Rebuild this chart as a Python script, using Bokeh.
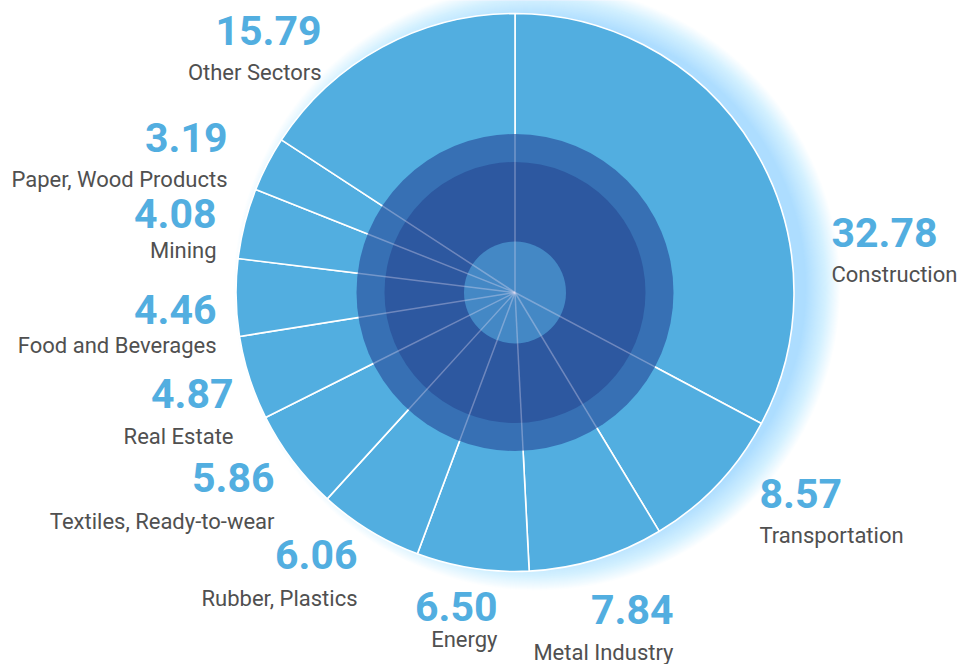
import numpy as np
from bokeh.plotting import figure
from bokeh.models import ColumnDataSource, Range1d
from bokeh.core.properties import value
from bokeh.embed import file_html
from bokeh.resources import INLINE

# ---- data ----
sectors = ["Construction", "Transportation", "Metal Industry", "Energy",
           "Rubber, Plastics", "Textiles, Ready-to-wear", "Real Estate",
           "Food and Beverages", "Mining", "Paper, Wood Products", "Other Sectors"]
shares = [32.78, 8.57, 7.84, 6.50, 6.06, 5.86, 4.87, 4.46, 4.08, 3.19, 15.79]

# ---- layout (pixel positions, y measured from top) ----
W, H = 958, 664
CX, CY = 514.5, H - 292
R = 279
anchor_x = [831, 759, 673, 497, 357, 274, 233, 216, 216, 227, 321]
num_base = [248, 509, 625, 622, 570, 493, 409, 325, 229, 153, 46]
lab_base = [283, 544, 661, 648, 607, 530, 445, 354, 259, 188, 81]
align = ["left", "left"] + ["right"] * 9
NUM_SHIFT = 16   # compensation for renderer baseline placement
LAB_SHIFT = 9

PIE = "#52AEE0"
RING = "#3770B4"
INNER = "#2D58A0"
CORE = "#4488C5"

vals = np.array(shares, dtype=float)
frac = vals / vals.sum()
cum = np.concatenate([[0], np.cumsum(frac)])
start = np.pi / 2 - 2 * np.pi * cum[1:]
end = np.pi / 2 - 2 * np.pi * cum[:-1]

src = ColumnDataSource(dict(start=start, end=end, sector=sectors, share=shares))

p = figure(width=W, height=H, x_range=Range1d(0, W), y_range=Range1d(0, H),
           x_axis_type=None, y_axis_type=None, toolbar_location=None,
           output_backend="svg", min_border=0)
p.grid.visible = False
p.outline_line_color = None
p.background_fill_color = "white"
p.border_fill_color = "white"

# soft glow (stack of faint circles, offset to the right)
n = 34
gr = np.linspace(R + 24, R - 10, n)
p.circle(x=[CX + 22] * n, y=[CY + 5] * n, radius=gr, fill_color="#8CCBEB",
         fill_alpha=0.023, line_color=None)

# pie
p.wedge(x=CX, y=CY, radius=R, start_angle="start", end_angle="end", source=src,
        fill_color=PIE, line_color="white", line_width=1.6)

# inner circles
p.circle(x=[CX], y=[CY], radius=[158.5], fill_color=RING, line_color=None)
p.circle(x=[CX], y=[CY], radius=[130.5], fill_color=INNER, line_color=None)
p.circle(x=[CX], y=[CY], radius=[51], fill_color=CORE, line_color=None)

# faint rays over circles
p.ray(x=CX, y=CY, length=158.5, angle="start", source=src,
      line_color="#E8E0F4", line_alpha=0.35, line_width=1.5)

# labels
lsrc = ColumnDataSource(dict(
    x=anchor_x,
    ny=[H - b + NUM_SHIFT for b in num_base],
    ly=[H - b + LAB_SHIFT for b in lab_base],
    num=["{:.2f}".format(v) for v in shares],
    lab=sectors,
    align=align,
))
p.text(x="x", y="ny", text="num", text_align="align", text_baseline="alphabetic",
       source=lsrc, text_font=value("Roboto"), text_font_style="bold",
       text_font_size="41px", text_color=PIE)
p.text(x="x", y="ly", text="lab", text_align="align", text_baseline="alphabetic",
       source=lsrc, text_font=value("Roboto"), text_font_size="22px",
       text_color="#505050")

open("out.html", "w").write(file_html(p, INLINE))
